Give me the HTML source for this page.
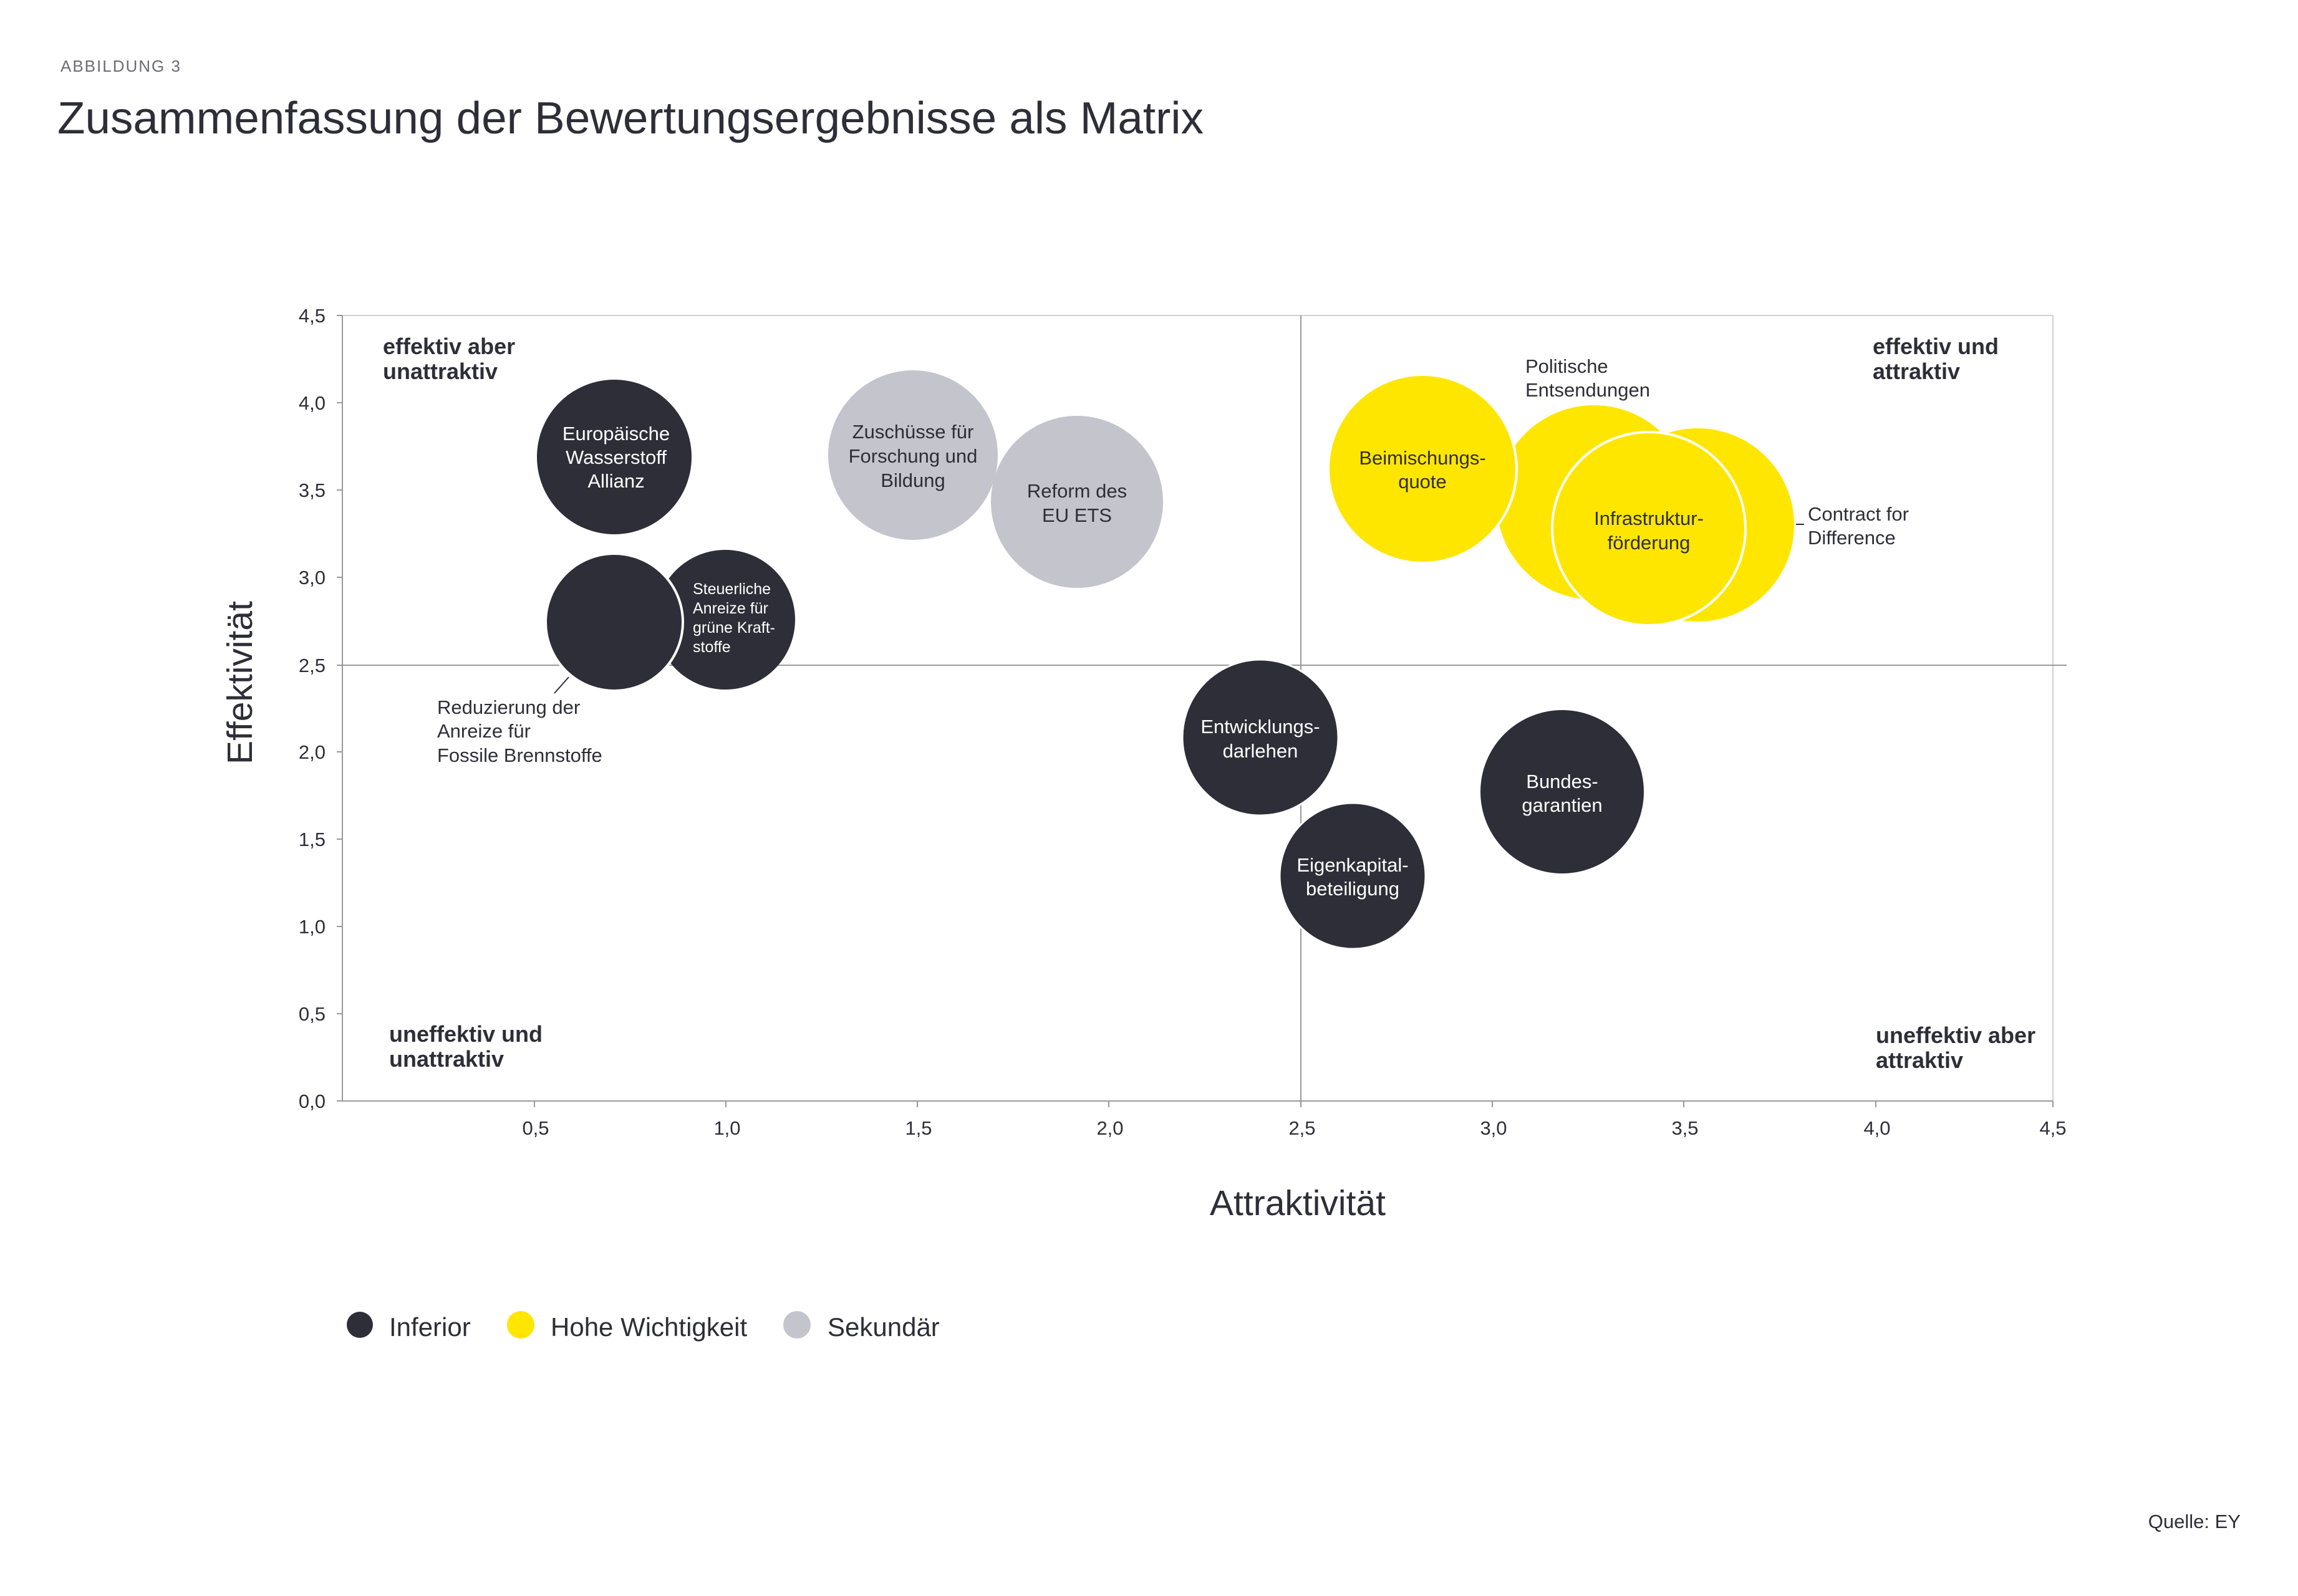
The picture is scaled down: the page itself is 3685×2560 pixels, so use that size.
<!DOCTYPE html>
<html><head><meta charset="utf-8"><style>
html,body{margin:0;padding:0;background:#fff}
svg{display:block}
text{font-family:"Liberation Sans Narrow","Liberation Sans",sans-serif;fill:#2e2e38}
.t{font-size:31px}
.w{fill:#fff}
.q{font-size:36px;font-weight:bold;font-family:"Liberation Sans",sans-serif}
.tk{font-size:31px;font-family:"Liberation Sans",sans-serif;fill:#444}
</style></head><body>
<svg width="3685" height="2560" viewBox="0 0 3685 2560" xmlns="http://www.w3.org/2000/svg">
<rect width="3685" height="2560" fill="#fff"/>
<text x="97" y="115" style="font-size:26px;fill:#6b6b75;letter-spacing:2px;font-family:'Liberation Sans',sans-serif">ABBILDUNG 3</text>
<text x="92" y="214" style="font-size:72px" textLength="1838" lengthAdjust="spacingAndGlyphs">Zusammenfassung der Bewertungsergebnisse als Matrix</text>

<line x1="549" y1="506" x2="3292" y2="506" stroke="#cfcfd4" stroke-width="2"/>
<line x1="3292" y1="506" x2="3292" y2="1766" stroke="#cfcfd4" stroke-width="2"/>
<line x1="549" y1="506" x2="549" y2="1766" stroke="#999" stroke-width="2"/>
<line x1="549" y1="1766" x2="3292" y2="1766" stroke="#999" stroke-width="2"/>
<line x1="549" y1="1067" x2="3314" y2="1067" stroke="#999" stroke-width="2"/>
<line x1="2086" y1="506" x2="2086" y2="1766" stroke="#999" stroke-width="2"/>
<g stroke="#999" stroke-width="2">
<line x1="540" y1="506" x2="549" y2="506"/><line x1="540" y1="646" x2="549" y2="646"/><line x1="540" y1="786" x2="549" y2="786"/><line x1="540" y1="926" x2="549" y2="926"/><line x1="540" y1="1067" x2="549" y2="1067"/><line x1="540" y1="1206" x2="549" y2="1206"/><line x1="540" y1="1346" x2="549" y2="1346"/><line x1="540" y1="1486" x2="549" y2="1486"/><line x1="540" y1="1626" x2="549" y2="1626"/><line x1="540" y1="1766" x2="549" y2="1766"/>
<line x1="857" y1="1766" x2="857" y2="1776"/><line x1="1164" y1="1766" x2="1164" y2="1776"/><line x1="1471" y1="1766" x2="1471" y2="1776"/><line x1="1778" y1="1766" x2="1778" y2="1776"/><line x1="2086" y1="1766" x2="2086" y2="1776"/><line x1="2393" y1="1766" x2="2393" y2="1776"/><line x1="2700" y1="1766" x2="2700" y2="1776"/><line x1="3008" y1="1766" x2="3008" y2="1776"/><line x1="3292" y1="1766" x2="3292" y2="1776"/>
</g>
<g class="tk" text-anchor="end">
<text x="522" y="517">4,5</text><text x="522" y="657">4,0</text><text x="522" y="797">3,5</text><text x="522" y="937">3,0</text><text x="522" y="1078">2,5</text><text x="522" y="1217">2,0</text><text x="522" y="1357">1,5</text><text x="522" y="1497">1,0</text><text x="522" y="1637">0,5</text><text x="522" y="1777">0,0</text>
</g>
<g class="tk" text-anchor="middle">
<text x="859" y="1820">0,5</text><text x="1166" y="1820">1,0</text><text x="1473" y="1820">1,5</text><text x="1780" y="1820">2,0</text><text x="2088" y="1820">2,5</text><text x="2395" y="1820">3,0</text><text x="2702" y="1820">3,5</text><text x="3010" y="1820">4,0</text><text x="3292" y="1820">4,5</text>
</g>
<text x="2081" y="1949" text-anchor="middle" style="font-size:57px">Attraktivität</text>
<text transform="translate(404,1095) rotate(-90)" text-anchor="middle" style="font-size:57px">Effektivität</text>

<text class="q" x="614" y="568">effektiv aber</text><text class="q" x="614" y="608">unattraktiv</text>
<text class="q" x="624" y="1671">uneffektiv und</text><text class="q" x="624" y="1711">unattraktiv</text>
<text class="q" x="3003" y="568">effektiv und</text><text class="q" x="3003" y="608">attraktiv</text>
<text class="q" x="3008" y="1673">uneffektiv aber</text><text class="q" x="3008" y="1713">attraktiv</text>

<circle cx="985" cy="733" r="124" fill="#2e2e38"/>
<circle cx="1163" cy="994" r="112" fill="#2e2e38"/>
<circle cx="985" cy="998" r="110" fill="#2e2e38" stroke="#fff" stroke-width="4"/>
<circle cx="1464" cy="730" r="136" fill="#c4c4cd"/>
<circle cx="1727" cy="805" r="138" fill="#c4c4cd"/>
<circle cx="2556" cy="806" r="156" fill="#ffe600"/>
<circle cx="2722" cy="842" r="155" fill="#ffe600"/>
<circle cx="2644" cy="848" r="155" fill="#ffe600" stroke="#fff" stroke-width="4"/>
<circle cx="2281" cy="752" r="151" fill="#ffe600" stroke="#fff" stroke-width="4"/>
<circle cx="2021" cy="1183" r="125" fill="#2e2e38" stroke="#fff" stroke-width="3"/>
<circle cx="2169" cy="1405" r="117" fill="#2e2e38" stroke="#fff" stroke-width="3"/>
<circle cx="2505" cy="1270" r="131" fill="#2e2e38"/>

<g class="t" text-anchor="middle">
<text class="w" x="988" y="706">Europäische</text><text class="w" x="988" y="744">Wasserstoff</text><text class="w" x="988" y="782">Allianz</text>
<text x="1464" y="703">Zuschüsse für</text><text x="1464" y="742">Forschung und</text><text x="1464" y="781">Bildung</text>
<text x="1727" y="798">Reform des</text><text x="1727" y="837">EU ETS</text>
<text x="2281" y="745">Beimischungs-</text><text x="2281" y="783">quote</text>
<text x="2644" y="842">Infrastruktur-</text><text x="2644" y="881">förderung</text>
<text class="w" x="2021" y="1176">Entwicklungs-</text><text class="w" x="2021" y="1215">darlehen</text>
<text class="w" x="2169" y="1398">Eigenkapital-</text><text class="w" x="2169" y="1436">beteiligung</text>
<text class="w" x="2505" y="1264">Bundes-</text><text class="w" x="2505" y="1302">garantien</text>
</g>
<g style="font-size:25px">
<text class="w" x="1111" y="953">Steuerliche</text><text class="w" x="1111" y="984">Anreize für</text><text class="w" x="1111" y="1015">grüne Kraft-</text><text class="w" x="1111" y="1046">stoffe</text>
</g>
<g class="t">
<text x="701" y="1145">Reduzierung der</text><text x="701" y="1183">Anreize für</text><text x="701" y="1222">Fossile Brennstoffe</text>
<text x="2446" y="598">Politische</text><text x="2446" y="636">Entsendungen</text>
<text x="2899" y="835">Contract for</text><text x="2899" y="873">Difference</text>
</g>
<line x1="912" y1="1086" x2="889" y2="1112" stroke="#2e2e38" stroke-width="2"/>
<line x1="2880" y1="841" x2="2893" y2="841" stroke="#2e2e38" stroke-width="2"/>

<circle cx="577" cy="2125" r="21" fill="#2e2e38"/>
<text x="624" y="2143" style="font-size:42px">Inferior</text>
<circle cx="835" cy="2125" r="22" fill="#ffe600"/>
<text x="883" y="2143" style="font-size:42px">Hohe Wichtigkeit</text>
<circle cx="1278" cy="2125" r="22" fill="#c4c4cd"/>
<text x="1327" y="2143" style="font-size:42px">Sekundär</text>

<text x="3593" y="2451" text-anchor="end" style="font-size:31px">Quelle: EY</text>
</svg>
</body></html>
